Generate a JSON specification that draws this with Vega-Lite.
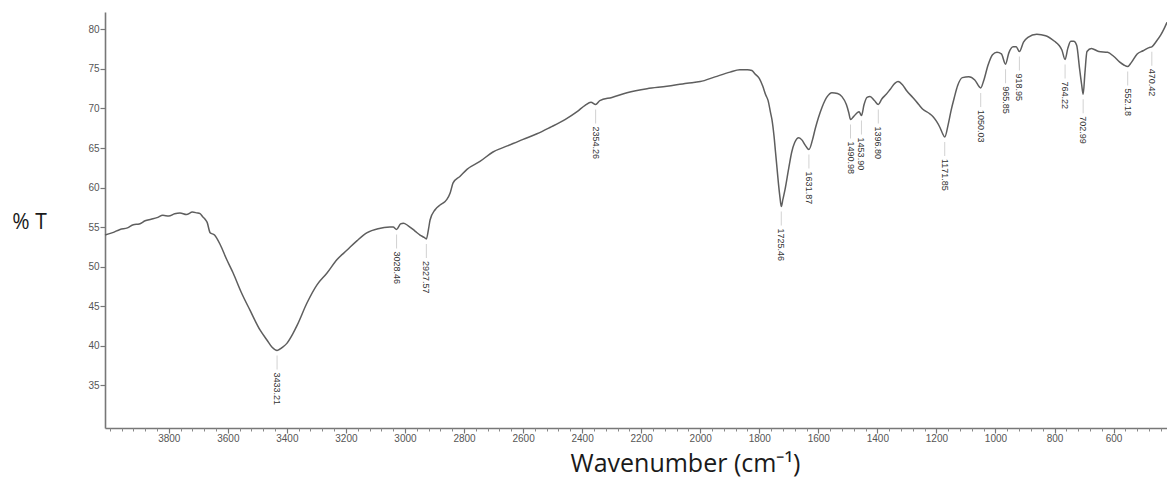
{
  "$schema": "https://vega.github.io/schema/vega-lite/v6.json",
  "autosize": "none",
  "width": 1062,
  "height": 416,
  "padding": {"left": 105, "top": 12, "right": 0, "bottom": 50},
  "background": "white",
  "config": {"view": {"stroke": null}},
  "datasets": {
    "spectrum": [
      {"w": 4016, "t": 54.0}, {"w": 3990, "t": 54.3}, {"w": 3965, "t": 54.7}, {"w": 3940, "t": 54.9},
      {"w": 3920, "t": 55.3}, {"w": 3900, "t": 55.4}, {"w": 3880, "t": 55.8}, {"w": 3860, "t": 56.0},
      {"w": 3840, "t": 56.2}, {"w": 3820, "t": 56.5}, {"w": 3800, "t": 56.4}, {"w": 3780, "t": 56.7},
      {"w": 3762, "t": 56.8}, {"w": 3740, "t": 56.6}, {"w": 3720, "t": 56.9}, {"w": 3705, "t": 56.8},
      {"w": 3694, "t": 56.7}, {"w": 3685, "t": 56.3}, {"w": 3677, "t": 56.0}, {"w": 3670, "t": 55.6},
      {"w": 3660, "t": 54.3}, {"w": 3645, "t": 54.0}, {"w": 3626, "t": 52.8}, {"w": 3605, "t": 51.0},
      {"w": 3582, "t": 49.2}, {"w": 3555, "t": 46.8}, {"w": 3525, "t": 44.5}, {"w": 3491, "t": 42.0},
      {"w": 3467, "t": 40.7}, {"w": 3450, "t": 39.8}, {"w": 3433.21, "t": 39.4}, {"w": 3415, "t": 39.8},
      {"w": 3400, "t": 40.3}, {"w": 3380, "t": 41.5}, {"w": 3365, "t": 42.6}, {"w": 3332, "t": 45.4},
      {"w": 3298, "t": 47.7}, {"w": 3264, "t": 49.2}, {"w": 3230, "t": 50.9}, {"w": 3196, "t": 52.1},
      {"w": 3162, "t": 53.3}, {"w": 3128, "t": 54.3}, {"w": 3091, "t": 54.8}, {"w": 3051, "t": 55.0},
      {"w": 3040, "t": 55.0}, {"w": 3028.46, "t": 54.7}, {"w": 3015, "t": 55.4}, {"w": 3005, "t": 55.5},
      {"w": 2990, "t": 55.2}, {"w": 2966, "t": 54.5}, {"w": 2949, "t": 54.0}, {"w": 2935, "t": 53.7},
      {"w": 2927.57, "t": 53.5}, {"w": 2920, "t": 54.8}, {"w": 2915, "t": 55.9}, {"w": 2898, "t": 57.2},
      {"w": 2881, "t": 57.8}, {"w": 2865, "t": 58.2}, {"w": 2858, "t": 58.5}, {"w": 2847, "t": 59.3},
      {"w": 2837, "t": 60.6}, {"w": 2814, "t": 61.4}, {"w": 2790, "t": 62.3}, {"w": 2746, "t": 63.3},
      {"w": 2702, "t": 64.5}, {"w": 2651, "t": 65.3}, {"w": 2600, "t": 66.1}, {"w": 2553, "t": 66.8},
      {"w": 2509, "t": 67.6}, {"w": 2458, "t": 68.6}, {"w": 2417, "t": 69.6}, {"w": 2390, "t": 70.4},
      {"w": 2370, "t": 70.8}, {"w": 2354.26, "t": 70.5}, {"w": 2340, "t": 71.0}, {"w": 2299, "t": 71.4},
      {"w": 2248, "t": 72.0}, {"w": 2180, "t": 72.5}, {"w": 2113, "t": 72.8}, {"w": 2045, "t": 73.2},
      {"w": 2000, "t": 73.4}, {"w": 1950, "t": 74.0}, {"w": 1899, "t": 74.6}, {"w": 1866, "t": 74.9},
      {"w": 1840, "t": 74.9}, {"w": 1825, "t": 74.8}, {"w": 1815, "t": 74.4}, {"w": 1800, "t": 73.8},
      {"w": 1788, "t": 72.8}, {"w": 1778, "t": 71.7}, {"w": 1770, "t": 71.0}, {"w": 1762, "t": 69.5},
      {"w": 1757, "t": 68.6}, {"w": 1750, "t": 66.5}, {"w": 1745, "t": 64.5}, {"w": 1740, "t": 62.5},
      {"w": 1735, "t": 60.5}, {"w": 1730, "t": 58.8}, {"w": 1725.46, "t": 57.6}, {"w": 1720, "t": 58.5},
      {"w": 1713, "t": 59.7}, {"w": 1700, "t": 62.5}, {"w": 1690, "t": 64.5}, {"w": 1680, "t": 65.7},
      {"w": 1666, "t": 66.3}, {"w": 1655, "t": 66.0}, {"w": 1645, "t": 65.4}, {"w": 1631.87, "t": 64.8},
      {"w": 1620, "t": 66.0}, {"w": 1610, "t": 67.5}, {"w": 1600, "t": 68.8}, {"w": 1587, "t": 70.2},
      {"w": 1570, "t": 71.5}, {"w": 1554, "t": 72.0}, {"w": 1535, "t": 71.9}, {"w": 1520, "t": 71.5},
      {"w": 1505, "t": 70.5}, {"w": 1497, "t": 69.5}, {"w": 1490.98, "t": 68.6}, {"w": 1480, "t": 69.0},
      {"w": 1470, "t": 69.4}, {"w": 1462, "t": 69.6}, {"w": 1453.9, "t": 69.1}, {"w": 1445, "t": 70.5},
      {"w": 1435, "t": 71.4}, {"w": 1425, "t": 71.5}, {"w": 1410, "t": 71.0}, {"w": 1396.8, "t": 70.5},
      {"w": 1385, "t": 71.2}, {"w": 1370, "t": 71.8}, {"w": 1357, "t": 72.4}, {"w": 1340, "t": 73.2},
      {"w": 1330, "t": 73.4}, {"w": 1315, "t": 73.0}, {"w": 1300, "t": 72.2}, {"w": 1280, "t": 71.4},
      {"w": 1260, "t": 70.5}, {"w": 1246, "t": 69.9}, {"w": 1225, "t": 69.4}, {"w": 1212, "t": 69.0},
      {"w": 1200, "t": 68.4}, {"w": 1188, "t": 67.6}, {"w": 1180, "t": 66.9}, {"w": 1171.85, "t": 66.4},
      {"w": 1160, "t": 68.0}, {"w": 1150, "t": 69.8}, {"w": 1140, "t": 71.3}, {"w": 1128, "t": 72.9},
      {"w": 1112, "t": 73.9}, {"w": 1090, "t": 74.0}, {"w": 1070, "t": 73.6}, {"w": 1050.03, "t": 72.6},
      {"w": 1040, "t": 73.5}, {"w": 1025, "t": 75.5}, {"w": 1010, "t": 76.8}, {"w": 995, "t": 77.1},
      {"w": 980, "t": 76.9}, {"w": 965.85, "t": 75.6}, {"w": 955, "t": 77.0}, {"w": 940, "t": 77.8},
      {"w": 930, "t": 77.8}, {"w": 918.95, "t": 77.2}, {"w": 905, "t": 78.4}, {"w": 890, "t": 79.0},
      {"w": 860, "t": 79.4}, {"w": 830, "t": 79.2}, {"w": 800, "t": 78.5}, {"w": 785, "t": 78.0},
      {"w": 775, "t": 77.4}, {"w": 764.22, "t": 76.2}, {"w": 755, "t": 77.6}, {"w": 745, "t": 78.5},
      {"w": 735, "t": 78.5}, {"w": 725, "t": 78.0}, {"w": 715, "t": 75.0}, {"w": 708, "t": 73.0},
      {"w": 702.99, "t": 71.8}, {"w": 697, "t": 74.5}, {"w": 690, "t": 77.2}, {"w": 675, "t": 77.6},
      {"w": 650, "t": 77.2}, {"w": 620, "t": 77.1}, {"w": 600, "t": 76.6}, {"w": 580, "t": 75.9},
      {"w": 565, "t": 75.5}, {"w": 552.18, "t": 75.3}, {"w": 540, "t": 75.8}, {"w": 520, "t": 76.9},
      {"w": 500, "t": 77.3}, {"w": 480, "t": 77.7}, {"w": 470.42, "t": 77.8}, {"w": 455, "t": 78.5},
      {"w": 440, "t": 79.3}, {"w": 430, "t": 80.0}, {"w": 419, "t": 80.9}
    ],
    "peaks": [
      {"w": 3433.21, "t": 39.4, "label": "3433.21"},
      {"w": 3028.46, "t": 54.7, "label": "3028.46"},
      {"w": 2927.57, "t": 53.5, "label": "2927.57"},
      {"w": 2354.26, "t": 70.5, "label": "2354.26"},
      {"w": 1725.46, "t": 57.6, "label": "1725.46"},
      {"w": 1631.87, "t": 64.8, "label": "1631.87"},
      {"w": 1490.98, "t": 68.6, "label": "1490.98"},
      {"w": 1453.9, "t": 69.1, "label": "1453.90"},
      {"w": 1396.8, "t": 70.5, "label": "1396.80"},
      {"w": 1171.85, "t": 66.4, "label": "1171.85"},
      {"w": 1050.03, "t": 72.6, "label": "1050.03"},
      {"w": 965.85, "t": 75.6, "label": "965.85"},
      {"w": 918.95, "t": 77.2, "label": "918.95"},
      {"w": 764.22, "t": 76.2, "label": "764.22"},
      {"w": 702.99, "t": 71.8, "label": "702.99"},
      {"w": 552.18, "t": 75.3, "label": "552.18"},
      {"w": 470.42, "t": 77.8, "label": "470.42"}
    ]
  },
  "layer": [
    {
      "data": {"name": "spectrum"},
      "mark": {"type": "line", "color": "#5e5e5e", "strokeWidth": 1.5, "interpolate": "monotone"},
      "encoding": {
        "x": {
          "field": "w", "type": "quantitative",
          "scale": {"domain": [419, 4016], "reverse": true, "nice": false, "zero": false},
          "axis": {
            "orient": "bottom",
            "values": [3800, 3600, 3400, 3200, 3000, 2800, 2600, 2400, 2200, 2000, 1800, 1600, 1400, 1200, 1000, 800, 600],
            "format": "d",
            "title": "Wavenumber (cm⁻¹)",
            "titleFont": "Open Sans", "titleFontSize": 25, "titleFontWeight": "normal", "titleColor": "#1a1a1a",
            "titleX": 580, "titleY": 43, "titleAlign": "center", "titleBaseline": "alphabetic", "titleAnchor": null,
            "labelFont": "Liberation Sans", "labelFontSize": 10, "labelColor": "#555555", "labelPadding": 0,
            "labelFlush": false, "labelOverlap": false,
            "tickSize": 5, "tickColor": "#777777", "tickWidth": 1.2,
            "domainColor": "#777777", "domainWidth": 1.6, "grid": false
          }
        },
        "y": {
          "field": "t", "type": "quantitative",
          "scale": {"domain": [29.6, 82.2], "nice": false, "zero": false},
          "axis": {
            "values": [35, 40, 45, 50, 55, 60, 65, 70, 75, 80],
            "format": "d",
            "title": "% T",
            "titleFont": "Open Sans", "titleFontSize": 21, "titleFontWeight": "normal", "titleColor": "#1a1a1a",
            "titleAngle": 0, "titleX": -76, "titleY": 216, "titleAlign": "center", "titleBaseline": "alphabetic", "titleAnchor": null,
            "labelFont": "Liberation Sans", "labelFontSize": 10, "labelColor": "#555555", "labelPadding": 1,
            "tickSize": 5, "tickColor": "#777777", "tickWidth": 1.2,
            "domainColor": "#777777", "domainWidth": 1.6, "grid": false
          }
        }
      }
    },
    {
      "data": {"name": "spectrum"},
      "mark": {"type": "line", "opacity": 0},
      "encoding": {
        "x": {
          "field": "w", "type": "quantitative",
          "axis": {
            "orient": "bottom",
            "values": [440, 480, 520, 560, 640, 680, 720, 760, 840, 880, 920, 960, 1040, 1080, 1120, 1160, 1240, 1280, 1320, 1360, 1440, 1480, 1520, 1560, 1640, 1680, 1720, 1760, 1840, 1880, 1920, 1960, 2040, 2080, 2120, 2160, 2240, 2280, 2320, 2360, 2440, 2480, 2520, 2560, 2640, 2680, 2720, 2760, 2840, 2880, 2920, 2960, 3040, 3080, 3120, 3160, 3240, 3280, 3320, 3360, 3440, 3480, 3520, 3560, 3640, 3680, 3720, 3760, 3840, 3880, 3920, 3960, 4000],
            "labels": false, "domain": false, "title": null, "grid": false,
            "tickSize": 3, "tickColor": "#888888", "tickWidth": 1
          }
        },
        "y": {"field": "t", "type": "quantitative", "axis": null}
      }
    },
    {
      "data": {"name": "peaks"},
      "mark": {"type": "tick", "orient": "vertical", "size": 14, "thickness": 1, "color": "#bdbdbd", "yOffset": 12},
      "encoding": {
        "x": {"field": "w", "type": "quantitative", "axis": null},
        "y": {"field": "t", "type": "quantitative", "axis": null}
      }
    },
    {
      "data": {"name": "peaks"},
      "mark": {"type": "text", "angle": 90, "align": "left", "baseline": "middle", "yOffset": 22, "font": "Liberation Sans", "fontSize": 9, "color": "#333333"},
      "encoding": {
        "x": {"field": "w", "type": "quantitative", "axis": null},
        "y": {"field": "t", "type": "quantitative", "axis": null},
        "text": {"field": "label", "type": "nominal"}
      }
    }
  ],
  "resolve": {"axis": {"x": "independent", "y": "independent"}}
}
